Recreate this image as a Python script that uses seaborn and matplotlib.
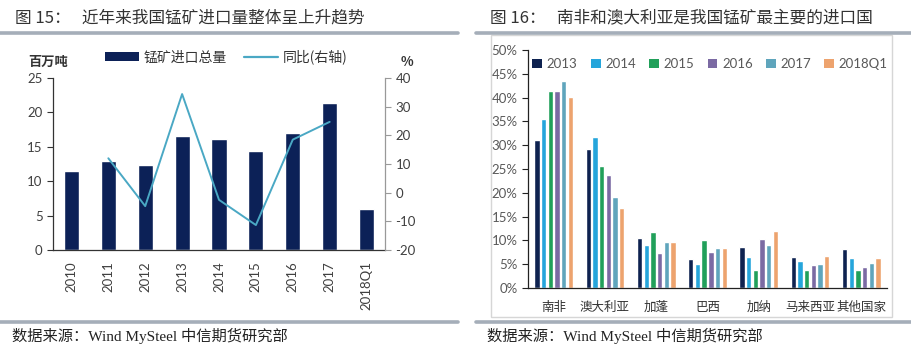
import numpy as np
import pandas as pd
import matplotlib
matplotlib.use('Agg')
import matplotlib.pyplot as plt
import seaborn as sns
from matplotlib.patches import Patch, Rectangle
from matplotlib.lines import Line2D

# ---------------- data ----------------
periods = ['2010', '2011', '2012', '2013', '2014', '2015', '2016', '2017', '2018Q1']
imports = [11.5, 13.0, 12.3, 16.6, 16.2, 14.4, 17.0, 21.3, 6.0]
yoy_periods = ['2011', '2012', '2013', '2014', '2015', '2016', '2017']
yoy = [12.0, -4.7, 34.4, -2.5, -11.3, 18.5, 24.7]

countries = ['南非', '澳大利亚', '加蓬', '巴西', '加纳', '马来西亚', '其他国家']
share_years = ['2013', '2014', '2015', '2016', '2017', '2018Q1']
share_2013 = [31.1, 29.1, 10.4, 6.0, 8.6, 6.6, 8.1]
share_2014 = [35.4, 31.8, 9.1, 5.0, 6.5, 5.7, 6.3]
share_2015 = [41.4, 25.6, 11.7, 10.1, 3.8, 3.7, 3.7]
share_2016 = [41.4, 23.7, 7.4, 7.6, 10.3, 4.9, 4.4]
share_2017 = [43.4, 19.1, 9.7, 8.4, 9.0, 5.1, 5.3]
share_2018q1 = [40.2, 16.8, 9.7, 8.4, 12.0, 6.7, 6.3]

# ---------------- style ----------------
sns.set_style('white')
CJK = ['Lato', 'Noto Sans CJK SC', 'DejaVu Sans']
plt.rcParams['font.family'] = CJK
plt.rcParams['axes.unicode_minus'] = False

W, H = 912, 352
fig = plt.figure(figsize=(W / 100, H / 100), dpi=100)

def ax_rect(x0, y0, x1, y1):
    return [x0 / W, 1 - y1 / H, (x1 - x0) / W, (y1 - y0) / H]

def fx(x):
    return x / W

def fy(y):
    return 1 - y / H

NAVY = '#0C2157'
LINE = '#4AA8C4'
TXT = '#404040'

# ---------------- decorations ----------------
title_font = ['Noto Sans CJK SC', 'DejaVu Sans']
src_font = ['Liberation Serif', 'Noto Sans CJK SC']
fig.text(fx(15), fy(18), '图 15：   近年来我国锰矿进口量整体呈上升趋势', fontsize=12,
         family=title_font, color='#333333', va='center', ha='left')
fig.text(fx(490), fy(18), '图 16：   南非和澳大利亚是我国锰矿最主要的进口国', fontsize=12,
         family=title_font, color='#333333', va='center', ha='left')
for (a, b) in [(0, 458), (476, 912)]:
    fig.add_artist(Line2D([fx(a), fx(b)], [fy(33), fy(33)], color='#A5AEB9', lw=2.6))
    fig.add_artist(Line2D([fx(a), fx(b)], [fy(322), fy(322)], color='#A5AEB9', lw=2.6))
fig.text(fx(12), fy(336), '数据来源：Wind MySteel 中信期货研究部', fontsize=11,
         family=src_font, color='#222222', va='center', ha='left')
fig.text(fx(487), fy(336), '数据来源：Wind MySteel 中信期货研究部', fontsize=11,
         family=src_font, color='#222222', va='center', ha='left')
fig.add_artist(Rectangle((fx(491), fy(317)), fx(892) - fx(491), fy(35) - fy(317),
                         fill=False, edgecolor='#D6D6D6', lw=1, transform=fig.transFigure))

# ---------------- left chart ----------------
ax1 = fig.add_axes(ax_rect(53, 78, 385, 250))
sns.barplot(x=periods, y=imports, color=NAVY, width=0.41, saturation=1, ax=ax1)
ax1.set_xlim(-0.5, len(periods) - 0.5)
ax1.set_ylim(0, 25)
ax1.set_yticks(np.arange(0, 26, 5))
ax1.set_xlabel('')
ax1.set_ylabel('')
ax1.set_xticks(range(len(periods)))
ax1.set_xticklabels(periods, rotation=90, fontsize=9.5, color=TXT)
ax1.set_xticks(np.arange(-0.5, len(periods), 1), minor=True)
ax1.tick_params(axis='x', which='major', length=0, pad=8)
ax1.tick_params(axis='x', which='minor', length=4, direction='out', color='#333333', width=0.8)
ax1.tick_params(axis='y', length=4, direction='out', color='#333333', width=0.8,
                labelsize=9.5, labelcolor=TXT, left=True)
for s in ['top', 'right']:
    ax1.spines[s].set_visible(False)
for s in ['left', 'bottom']:
    ax1.spines[s].set_color('#333333')
    ax1.spines[s].set_linewidth(0.9)

ax1b = ax1.twinx()
yoy_x = [periods.index(p) for p in yoy_periods]
sns.lineplot(x=yoy_x, y=yoy, color=LINE, lw=1.4, ax=ax1b)
ax1b.set_ylim(-20, 40)
ax1b.set_yticks(np.arange(-20, 41, 10))
ax1b.set_yticklabels([str(v) for v in range(-20, 41, 10)])
ax1b.set_xlim(-0.5, len(periods) - 0.5)
ax1b.set_ylabel('')
ax1b.tick_params(axis='y', length=4, direction='out', color='#999999', width=0.8,
                 labelsize=9.5, labelcolor=TXT, right=True)
for s in ['top', 'left', 'bottom']:
    ax1b.spines[s].set_visible(False)
ax1b.spines['right'].set_color('#999999')
ax1b.spines['right'].set_linewidth(0.9)

fig.text(fx(28), fy(62), '百万吨', fontsize=9.5, fontweight='bold', family=title_font,
         color='#333333', va='center', ha='left')
fig.text(fx(407), fy(62), '%', fontsize=9.5, fontweight='bold', family=title_font,
         color='#333333', va='center', ha='center')
handles = [Patch(facecolor=NAVY, edgecolor='none'), Line2D([], [], color=LINE, lw=1.6)]
fig.legend(handles, ['锰矿进口总量', '同比(右轴)'], loc='center',
           bbox_to_anchor=(fx(226), fy(57)), ncol=2, frameon=False,
           handlelength=2.5, handletextpad=0.3, columnspacing=1.2,
           prop={'family': title_font, 'size': 10}, labelcolor='#333333')

# ---------------- right chart ----------------
df = pd.DataFrame({
    'country': countries * len(share_years),
    'year': np.repeat(share_years, len(countries)),
    'share': share_2013 + share_2014 + share_2015 + share_2016 + share_2017 + share_2018q1,
})
palette = ['#0E2250', '#25A5DB', '#21A05A', '#7B6AA3', '#5FA5BC', '#EDA36E']
ax2 = fig.add_axes(ax_rect(528, 50, 887, 288))
sns.barplot(data=df, x='country', y='share', hue='year', palette=palette,
            width=0.78, gap=0.2, saturation=1, ax=ax2)
ax2.set_xlim(-0.5, len(countries) - 0.5)
ax2.set_ylim(0, 50)
ax2.set_yticks(np.arange(0, 51, 5))
ax2.set_yticklabels([f'{v}%' for v in range(0, 51, 5)])
ax2.set_xlabel('')
ax2.set_ylabel('')
ax2.set_xticks(range(len(countries)))
ax2.set_xticklabels(countries, fontsize=9, color='#333333', family=title_font)
ax2.set_xticks(np.arange(-0.5, len(countries), 1), minor=True)
ax2.tick_params(axis='x', which='major', length=0, pad=9)
ax2.tick_params(axis='x', which='minor', length=4, direction='out', color='#222222', width=0.8)
ax2.tick_params(axis='y', length=4, direction='out', color='#222222', width=0.8,
                labelsize=9.5, labelcolor='#595959', left=True)
for s in ['top', 'right']:
    ax2.spines[s].set_visible(False)
for s in ['left', 'bottom']:
    ax2.spines[s].set_color('#222222')
    ax2.spines[s].set_linewidth(0.9)
if ax2.get_legend() is not None:
    ax2.get_legend().remove()
leg_handles = [Patch(facecolor=c, edgecolor='none') for c in palette]
fig.legend(leg_handles, share_years, loc='center', bbox_to_anchor=(fx(710), fy(64)),
           ncol=6, frameon=False, fontsize=9.5,
           handlelength=0.75, handleheight=0.75, handletextpad=0.35, columnspacing=1.0,
           labelcolor='#595959')

fig.savefig('out.png', dpi=100)
